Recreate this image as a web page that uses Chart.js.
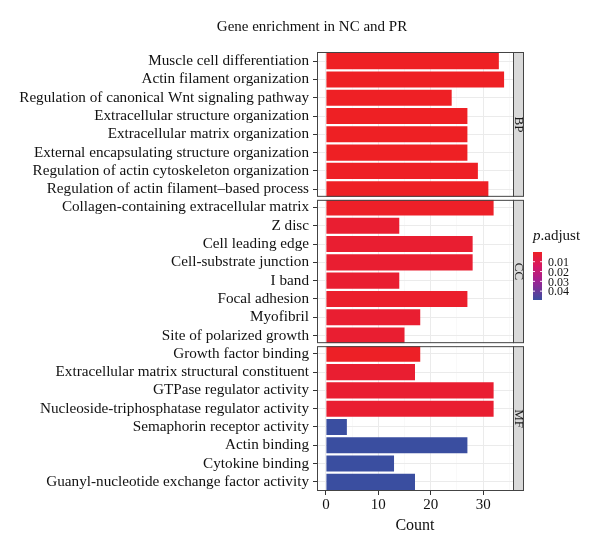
<!DOCTYPE html>
<html>
<head>
<meta charset="utf-8">
<script src="https://cdn.jsdelivr.net/npm/chart.js@4"></script>
<style>
  html, body { margin: 0; padding: 0; background: #fff; }
  #wrap { position: relative; width: 600px; height: 551px; }
</style>
</head>
<body>
<div id="wrap"><canvas id="goChart" width="600" height="551"></canvas></div>
<script>
const chartTitle = 'Gene enrichment in NC and PR';

const panelNames = ['BP', 'CC', 'MF'];

const bpTerms = [
    'Muscle cell differentiation',
    'Actin filament organization',
    'Regulation of canonical Wnt signaling pathway',
    'Extracellular structure organization',
    'Extracellular matrix organization',
    'External encapsulating structure organization',
    'Regulation of actin cytoskeleton organization',
    'Regulation of actin filament–based process'
];
const bpCounts = [33, 34, 24, 27, 27, 27, 29, 31];
const bpPadj = [0.0002, 0.0001, 0.0004, 0.0002, 0.0002, 0.0002, 0.0003, 0.0003];

const ccTerms = [
    'Collagen-containing extracellular matrix',
    'Z disc',
    'Cell leading edge',
    'Cell-substrate junction',
    'I band',
    'Focal adhesion',
    'Myofibril',
    'Site of polarized growth'
];
const ccCounts = [32, 14, 28, 28, 14, 27, 18, 15];
const ccPadj = [0.001, 0.003, 0.003, 0.003, 0.003, 0.002, 0.003, 0.003];

const mfTerms = [
    'Growth factor binding',
    'Extracellular matrix structural constituent',
    'GTPase regulator activity',
    'Nucleoside-triphosphatase regulator activity',
    'Semaphorin receptor activity',
    'Actin binding',
    'Cytokine binding',
    'Guanyl-nucleotide exchange factor activity'
];
const mfCounts = [18, 17, 32, 32, 4, 27, 13, 17];
const mfPadj = [0.0005, 0.003, 0.003, 0.003, 0.049, 0.049, 0.049, 0.049];

const xTicks = [0, 5, 10, 15, 20, 25, 30, 35];
const legendTicks = [0.01, 0.02, 0.03, 0.04];
const pLow = 0.0001;
const pHigh = 0.049;

// red -> magenta -> blue, roughly like ggplot's Lab interpolation
const colorStops = [
    [0.0, [238, 32, 36]],
    [0.3, [214, 24, 100]],
    [0.6, [160, 32, 146]],
    [1.0, [58, 78, 160]]
];

function pColor(p) {
    let t = (p - pLow) / (pHigh - pLow);
    t = Math.max(0, Math.min(1, t));
    for (let i = 1; i < colorStops.length; i++) {
        const a = colorStops[i - 1], b = colorStops[i];
        if (t <= b[0]) {
            const f = (t - a[0]) / (b[0] - a[0]);
            const c = a[1].map((v, k) => Math.round(v + (b[1][k] - v) * f));
            return 'rgb(' + c.join(',') + ')';
        }
    }
    return 'rgb(' + colorStops[colorStops.length - 1][1].join(',') + ')';
}

const serif = '"Liberation Serif", "DejaVu Serif", serif';
const plotLeft = 317;
const stripWidth = 10;

function makeDataset(terms, counts, padj, axisId) {
    return {
        label: axisId,
        yAxisID: axisId,
        data: terms.map((t, i) => ({ x: counts[i], y: t })),
        backgroundColor: padj.map(pColor),
        borderWidth: 0,
        barPercentage: 0.88,
        categoryPercentage: 1.0,
        grouped: false
    };
}

function yScale(terms) {
    return {
        type: 'category',
        labels: terms,
        position: 'left',
        stack: 'panels',
        stackWeight: 1,
        offset: true,
        border: { display: false },
        grid: {
            offset: false,
            color: '#EBEBEB',
            lineWidth: 1,
            tickColor: '#333',
            tickLength: 4
        },
        ticks: {
            color: '#111',
            padding: 4,
            autoSkip: false,
            font: { family: serif, size: 15.2 }
        },
        afterFit: function (scale) { scale.width = plotLeft; }
    };
}

// panel frames, strips, title and colour bar legend
const facetPlugin = {
    id: 'facetPlugin',
    afterDraw(chart) {
        const ctx = chart.ctx;
        const area = chart.chartArea;
        const ids = ['yBP', 'yCC', 'yMF'];
        const gap = 1.5;
        ctx.save();
        ids.forEach((id, i) => {
            const s = chart.scales[id];
            const top = s.top + (i > 0 ? gap : 0);
            const bottom = s.bottom - (i < ids.length - 1 ? gap : 0);
            // white gap between panels
            if (i < ids.length - 1) {
                ctx.fillStyle = '#fff';
                ctx.fillRect(area.left - 0.5, bottom, area.right + stripWidth - area.left + 1, gap * 2);
            }
            ctx.strokeStyle = '#444';
            ctx.lineWidth = 1;
            ctx.strokeRect(area.left + 0.5, top + 0.5, area.right - area.left, bottom - top - 1);
            // strip
            ctx.fillStyle = '#D9D9D9';
            ctx.fillRect(area.right + 0.5, top + 0.5, stripWidth, bottom - top - 1);
            ctx.strokeRect(area.right + 0.5, top + 0.5, stripWidth, bottom - top - 1);
            ctx.save();
            ctx.translate(area.right + 0.5 + stripWidth / 2, (top + bottom) / 2);
            ctx.rotate(Math.PI / 2);
            ctx.fillStyle = '#1A1A1A';
            ctx.font = '13px ' + serif;
            ctx.textAlign = 'center';
            ctx.textBaseline = 'middle';
            ctx.fillText(panelNames[i], 0, 0);
            ctx.restore();
        });

        // title
        ctx.fillStyle = '#111';
        ctx.font = '15px ' + serif;
        ctx.textAlign = 'center';
        ctx.textBaseline = 'middle';
        ctx.fillText(chartTitle, 312, 27);

        // legend
        const lx = 533, ly = 252, lw = 9, lh = 48;
        ctx.textAlign = 'left';
        ctx.textBaseline = 'alphabetic';
        ctx.font = 'italic 15px ' + serif;
        ctx.fillText('p', lx, 240);
        const pw = ctx.measureText('p').width;
        ctx.font = '15px ' + serif;
        ctx.fillText('.adjust', lx + pw, 240);

        const grad = ctx.createLinearGradient(0, ly, 0, ly + lh);
        for (let k = 0; k <= 20; k++) {
            const p = pLow + (pHigh - pLow) * k / 20;
            grad.addColorStop(k / 20, pColor(p));
        }
        ctx.fillStyle = grad;
        ctx.fillRect(lx, ly, lw, lh);
        ctx.font = '12px ' + serif;
        ctx.textBaseline = 'middle';
        legendTicks.forEach(v => {
            const y = ly + (v - pLow) / (pHigh - pLow) * lh;
            ctx.strokeStyle = 'rgba(255,255,255,0.9)';
            ctx.beginPath();
            ctx.moveTo(lx, y); ctx.lineTo(lx + 2, y);
            ctx.moveTo(lx + lw - 2, y); ctx.lineTo(lx + lw, y);
            ctx.stroke();
            ctx.fillStyle = '#111';
            ctx.fillText(v.toFixed(2), lx + lw + 6, y + 1);
        });
        ctx.restore();
    }
};

const ctx = document.getElementById('goChart').getContext('2d');
const goChart = new Chart(ctx, {
    type: 'bar',
    data: {
        datasets: [
            makeDataset(bpTerms, bpCounts, bpPadj, 'yBP'),
            makeDataset(ccTerms, ccCounts, ccPadj, 'yCC'),
            makeDataset(mfTerms, mfCounts, mfPadj, 'yMF')
        ]
    },
    options: {
        indexAxis: 'y',
        responsive: false,
        animation: false,
        layout: { padding: { top: 52, right: 87, bottom: 0, left: 0 } },
        scales: {
            x: {
                type: 'linear',
                min: -1.7,
                max: 35.7,
                border: { display: false },
                afterBuildTicks: function (scale) {
                    scale.ticks = xTicks.map(v => ({ value: v }));
                },
                grid: {
                    color: c => (c.tick && c.tick.value % 10 === 0) ? '#EBEBEB' : '#F5F5F5',
                    lineWidth: c => (c.tick && c.tick.value % 10 === 0) ? 1 : 0.6,
                    tickColor: c => (c.tick && c.tick.value % 10 === 0) ? '#333' : 'rgba(0,0,0,0)',
                    tickLength: 4
                },
                ticks: {
                    color: '#111',
                    padding: 1,
                    maxRotation: 0,
                    font: { family: serif, size: 15 },
                    callback: v => (v % 10 === 0 ? v : '')
                },
                title: {
                    display: true,
                    text: 'Count',
                    color: '#111',
                    font: { family: serif, size: 16 },
                    padding: { top: 0, bottom: 16 }
                },
                afterFit: function (scale) { scale.height = 60; }
            },
            // stacked axes are placed bottom-up, so the last panel comes first
            yMF: yScale(mfTerms),
            yCC: yScale(ccTerms),
            yBP: yScale(bpTerms)
        },
        plugins: {
            legend: { display: false },
            title: { display: false },
            tooltip: { enabled: false }
        }
    },
    plugins: [facetPlugin]
});
</script>
</body>
</html>
